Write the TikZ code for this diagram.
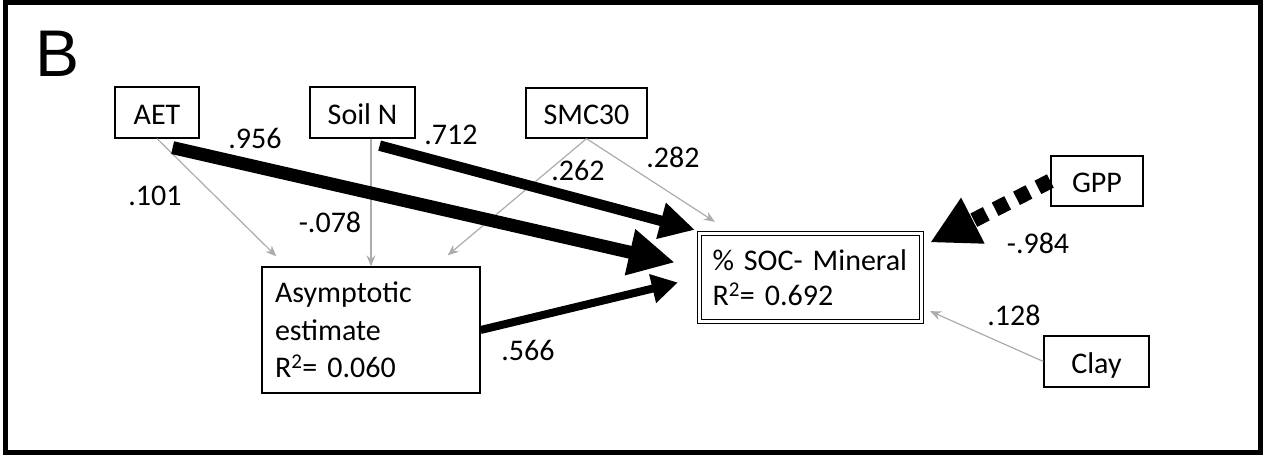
\documentclass[tikz,border=0pt]{standalone}
\usepackage{fontspec}
\setmainfont{Carlito}
\newfontfamily\panelfont{Liberation Sans}
\usetikzlibrary{arrows.meta,positioning}

\tikzset{
  var/.style={draw,line width=1.3pt,font=\fontsize{30}{35}\selectfont,inner sep=0pt,text height=24pt,text depth=0pt},
  multi/.style={draw,line width=1.3pt,align=left,inner xsep=13pt},
  coef/.style={font=\fontsize{30}{35}\selectfont,inner sep=0pt},
  weak/.style={draw=gray!65,line width=1.2pt,-{Stealth[length=11pt,width=9pt]}},
}

\begin{document}
\begin{tikzpicture}[x=1pt,y=-1pt]
    \useasboundingbox (0,0) rectangle (1263,457);
    \draw[line width=5pt] (5,2.5) rectangle (1260,452.5);
    \node[font={\panelfont\fontsize{66}{70}\selectfont},anchor=base west,inner sep=0pt] (panel) at (35,77) {B};
    % observed variables
    \node[var,minimum width=84pt,minimum height=51pt] (aet) at (157,112.5) {AET};
    \node[var,minimum width=105pt,minimum height=51pt] (soiln) at (362.5,112.5) {Soil N};
    \node[var,minimum width=121pt,minimum height=50pt] (smc) at (586.5,113) {SMC30};
    \node[var,minimum width=92pt,minimum height=50pt] (gpp) at (1097,181) {GPP};
    \node[var,minimum width=105pt,minimum height=51pt] (clay) at (1096.5,361.5) {Clay};
    \node[multi,font=\fontsize{30}{37.5}\selectfont,text width=192pt,minimum width=218pt,minimum height=126pt] (asym) at (371,330)
        {Asymptotic\\estimate\\R\textsuperscript{2}= 0.060};
    \node[multi,double,double distance=2.5pt,font=\fontsize{30}{35}\selectfont,text width=196pt,minimum width=222pt,minimum height=88pt] (soc) at (810.5,277.5)
        {\% SOC- Mineral\\R\textsuperscript{2}= 0.692};
    % weak paths
    \draw[weak] (aet.south) -- ([xshift=15pt,yshift=10pt]asym.north west);
    \draw[weak] (soiln.south -| asym.north) -- (asym.north);
    \draw[weak] (smc.south) -- ([xshift=-33pt,yshift=11pt]asym.north east);
    \draw[weak] (smc.south) -- ([xshift=16pt,yshift=11pt]soc.north west);
    \draw[weak] (clay.west) -- ([xshift=8pt,yshift=11pt]soc.south east);
    % strong paths
    \draw[line width=13pt,-{Triangle[length=46pt,width=44pt]}] ([xshift=-27pt,yshift=-9pt]aet.south east) -- ([xshift=-24pt,yshift=15pt]soc.west);
    \draw[line width=10.5pt,-{Triangle[length=35pt,width=35pt]}] ([xshift=-36pt,yshift=-7pt]soiln.south east) -- ([xshift=-4pt,yshift=3pt]soc.north west);
    \draw[line width=8pt,-{Triangle[length=26pt,width=28pt]}] (asym.east) -- ([xshift=-21pt,yshift=-5pt]soc.west);
    \draw[line width=15pt,dash pattern=on 14pt off 10pt,-{Triangle[length=48pt,width=48pt]}] (gpp.west) -- ([xshift=8pt,yshift=35pt]soc.east);
    % coefficients
    \node[coef] (c956) at (255,138) {.956};
    \node[coef] (c101) at (155,196) {.101};
    \node[coef] (c078) at (330,222) {-.078};
    \node[coef] (c712) at (451,135) {.712};
    \node[coef] (c262) at (578,170) {.262};
    \node[coef] (c282) at (673,157) {.282};
    \node[coef] (c984) at (1038,243) {-.984};
    \node[coef] (c128) at (1014,315) {.128};
    \node[coef] (c566) at (528,350) {.566};
\end{tikzpicture}
\end{document}
